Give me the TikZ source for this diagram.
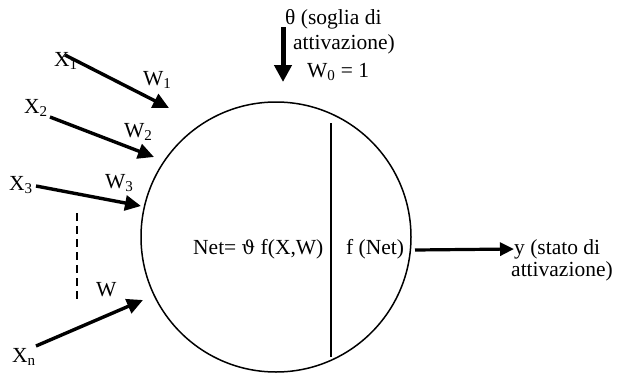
\documentclass[tikz,border=0pt]{standalone}
\usepackage{fontspec}
\setmainfont{Liberation Serif}
\newfontfamily\symfont{DejaVu Serif}
\usetikzlibrary{arrows.meta}
\begin{document}
\begin{tikzpicture}[x=1pt,y=-1pt,
  lbl/.style={inner sep=0pt,anchor=west,font=\fontsize{21.5}{25}\selectfont},
  inarrow/.style={line width=3.4pt,-{Triangle[length=16pt,width=15pt]}},
  bigarrow/.style={line width=5pt,-{Triangle[length=17pt,width=17pt]}},
  outarrow/.style={line width=3.2pt,-{Triangle[length=14pt,width=13pt]}}]
\useasboundingbox (0,0) rectangle (618,372);
% neuron body
\node (body) [draw,circle,line width=1.5pt,minimum size=270pt,inner sep=0pt] at (276,237) {};
\coordinate (divtop) at (331,123);
\coordinate (divbot) at (331,357);
\draw[line width=1.5pt] (divtop) -- (divbot);
% inputs
\node (x1) [lbl] at (54,61) {X\textsubscript{1}};
\node (x2) [lbl] at (24,108) {X\textsubscript{2}};
\node (x3) [lbl] at (9,185) {X\textsubscript{3}};
\node (xn) [lbl] at (12,357) {X\textsubscript{n}};
\node (w1) [lbl] at (143,80) {W\textsubscript{1}};
\node (w2) [lbl] at (124,132) {W\textsubscript{2}};
\node (w3) [lbl] at (105,183) {W\textsubscript{3}};
\node (wn) [lbl] at (96,290) {W};
\coordinate (s1) at (65,55);
\coordinate (t1) at (169,108);
\coordinate (s2) at (50,117);
\coordinate (t2) at (154,157);
\coordinate (s3) at (36,186);
\coordinate (t3) at (141,206);
\coordinate (sn) at (36,346);
\coordinate (tn) at (143,300);
\draw[inarrow] (s1) -- (t1);
\draw[inarrow] (s2) -- (t2);
\draw[inarrow] (s3) -- (t3);
\draw[inarrow] (sn) -- (tn);
\coordinate (d1) at (77,213);
\coordinate (d2) at (77,300);
\draw[line width=1.5pt,dash pattern=on 8pt off 5pt] (d1) -- (d2);
% threshold
\node (th1) [lbl] at (285,19) {θ (soglia di};
\node (th2) [lbl] at (293,44) {attivazione)};
\node (w0) [lbl] at (307,72) {W\textsubscript{0} = 1};
\coordinate (ts) at (283,27);
\coordinate (tt) at (283,82);
\draw[bigarrow] (ts) -- (tt);
% inside
\node (net) [lbl] at (193,249) {Net= {\symfont\fontsize{19}{22}\selectfont ϑ} f(X,W)};
\node (fnet) [lbl] at (346,249) {f (Net)};
% output
\node (y1) [lbl] at (514,249) {y (stato di};
\node (y2) [lbl] at (511,271) {attivazione)};
\coordinate (os) at (415,250);
\draw[outarrow] (os) -- (y1.west);
\end{tikzpicture}
\end{document}
